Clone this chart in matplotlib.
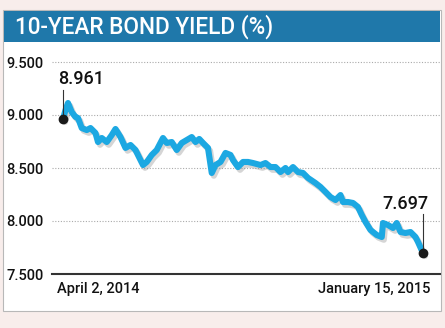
import matplotlib
matplotlib.use('Agg')
import numpy as np
import pandas as pd
import matplotlib.pyplot as plt
import matplotlib.patheffects as pe
from matplotlib.patches import Rectangle

plt.rcParams['font.family'] = ['Roboto', 'DejaVu Sans']

# days after April 2, 2014 and the yield
days = [0, 2, 4, 7, 10, 12, 15, 19, 22, 26, 28, 31, 35, 39, 42, 46, 50, 54,
        58, 62, 64, 67, 71, 75, 80, 83, 87, 91, 95, 99, 103, 106, 109, 112,
        116, 119, 122, 126, 130, 134, 136, 140, 144, 148, 152, 158, 162, 166,
        170, 174, 178, 180, 184, 188, 192, 196, 202, 206, 210, 214, 218, 222,
        224, 228, 232, 236, 239, 242, 246, 251, 255, 256, 260, 264, 267, 270,
        274, 278, 282, 284, 288]
yields = [8.961, 9.047, 9.113, 9.028, 8.981, 8.972, 8.877, 8.858, 8.877,
          8.830, 8.745, 8.783, 8.745, 8.811, 8.868, 8.792, 8.689, 8.717,
          8.670, 8.575, 8.528, 8.557, 8.623, 8.670, 8.783, 8.736, 8.745,
          8.670, 8.736, 8.764, 8.792, 8.745, 8.774, 8.736, 8.689, 8.453,
          8.528, 8.557, 8.642, 8.623, 8.575, 8.509, 8.557, 8.557, 8.547,
          8.528, 8.547, 8.509, 8.509, 8.462, 8.500, 8.462, 8.509, 8.462,
          8.453, 8.406, 8.358, 8.321, 8.274, 8.226, 8.198, 8.245, 8.179,
          8.179, 8.170, 8.132, 8.057, 7.991, 7.915, 7.868, 7.849, 7.981,
          7.962, 7.934, 7.981, 7.896, 7.887, 7.896, 7.849, 7.802, 7.697]
yticks = [7.5, 8.0, 8.5, 9.0, 9.5]
start_label = 'April 2, 2014'
end_label = 'January 15, 2015'

dates = pd.Timestamp('2014-04-02') + pd.to_timedelta(days, unit='D')

fig = plt.figure(figsize=(4.45, 3.28), dpi=100)
fig.patch.set_facecolor('#f8edeb')

# white card with blue header
fig.patches.append(Rectangle((3 / 445, 1 - 311 / 328), 438 / 445, 301 / 328,
                             transform=fig.transFigure, facecolor='white',
                             edgecolor='#b8b8b8', lw=0.8, zorder=0))
fig.patches.append(Rectangle((4 / 445, 1 - 42 / 328), 436 / 445, 31 / 328,
                             transform=fig.transFigure, facecolor='#1f78aa',
                             edgecolor='none', zorder=1))
fig.text(15 / 445, 1 - 27 / 328, '10-YEAR BOND YIELD (%)', color='white',
         fontsize=16.3, fontweight='medium', va='center', ha='left')

ax = fig.add_axes([52 / 445, 1 - 274 / 328, 388 / 445, 224 / 328])
ax.set_zorder(3)
ax.set_facecolor('none')

ax.plot(dates, yields, color='#1ca8e2', lw=4.4, solid_joinstyle='round',
        solid_capstyle='round',
        path_effects=[pe.SimpleLineShadow(offset=(1.5, -2), shadow_color='#888888', alpha=0.35),
                      pe.Normal()], zorder=3)

# end points with leader lines
ax.plot([dates[0], dates[-1]], [yields[0], yields[-1]], 'o', color='#1a1a1a',
        ms=6, zorder=5)
ax.plot([dates[0], dates[0]], [yields[0], 9.24], color='#333333', lw=0.8, zorder=4)
ax.plot([dates[-1], dates[-1]], [yields[-1], 8.07], color='#333333', lw=0.8, zorder=4)
ax.text(dates[0] - pd.Timedelta(days=4), 9.25, f'{yields[0]:.3f}', fontsize=13,
        fontweight='medium', ha='left', va='bottom', color='#111111')
ax.text(dates[-1] + pd.Timedelta(days=4), 8.08, f'{yields[-1]:.3f}', fontsize=13,
        fontweight='medium', ha='right', va='bottom', color='#111111')

ax.set_xlim(dates[0] - pd.Timedelta(days=8.8), dates[0] + pd.Timedelta(days=301.6))
ax.set_ylim(7.5, 7.5 + 224 / 106)

for v in yticks[1:]:
    ax.axhline(v, color='#aaaaaa', lw=0.8, ls=(0, (1, 1.5)), zorder=1)

ax.set_yticks(yticks)
ax.set_yticklabels([f'{v:.3f}' for v in yticks], fontsize=10.5, color='#111111',
                   fontweight='medium')
ax.tick_params(axis='y', length=0, pad=6)
ax.set_xticks([])
for s in ['top', 'right', 'left']:
    ax.spines[s].set_visible(False)
ax.spines['bottom'].set_color('#333333')
ax.spines['bottom'].set_linewidth(1.5)

ax.text((57 - 52) / 388, -0.035, start_label, fontsize=10.5, fontweight='medium',
        ha='left', va='top', color='#111111', transform=ax.transAxes)
ax.text((430 - 52) / 388, -0.035, end_label, fontsize=10.5, fontweight='medium',
        ha='right', va='top', color='#111111', transform=ax.transAxes)

fig.savefig('out.png', dpi=100, facecolor=fig.get_facecolor())
